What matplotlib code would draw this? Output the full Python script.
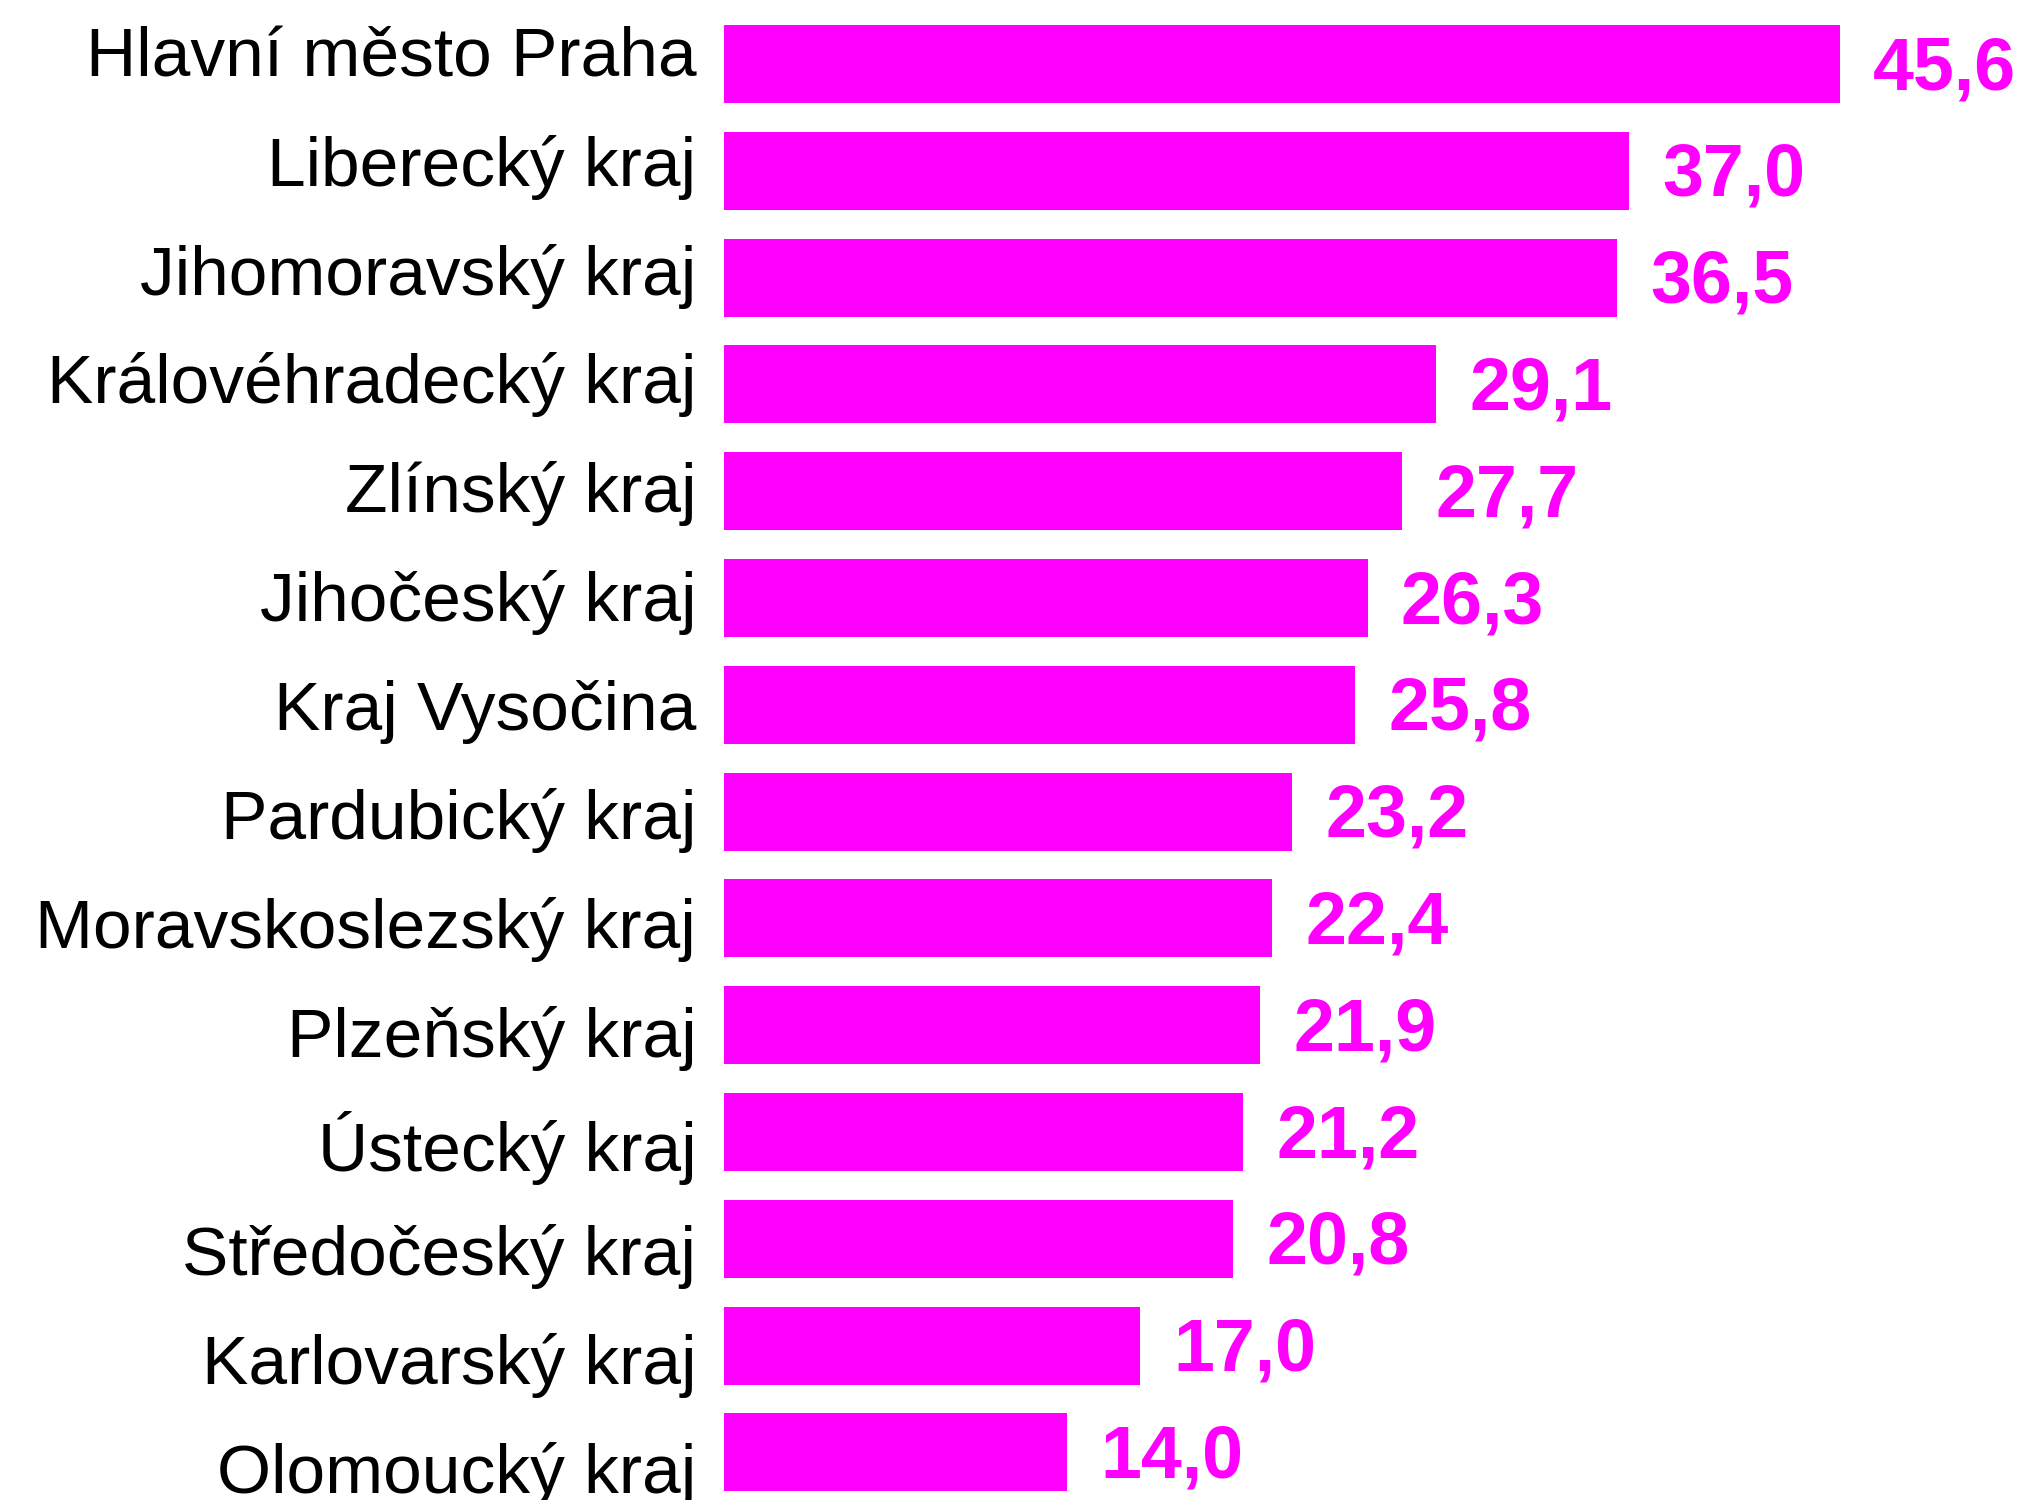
import matplotlib
matplotlib.use('Agg')
import matplotlib.pyplot as plt

regions = [
    'Hlavní město Praha', 'Liberecký kraj', 'Jihomoravský kraj',
    'Královéhradecký kraj', 'Zlínský kraj', 'Jihočeský kraj',
    'Kraj Vysočina', 'Pardubický kraj', 'Moravskoslezský kraj',
    'Plzeňský kraj', 'Ústecký kraj', 'Středočeský kraj',
    'Karlovarský kraj', 'Olomoucký kraj',
]
values = [45.6, 37.0, 36.5, 29.1, 27.7, 26.3, 25.8, 23.2, 22.4,
          21.9, 21.2, 20.8, 17.0, 14.0]

bar_color = '#ff00ff'
plt.rcParams['font.family'] = ['Liberation Sans', 'DejaVu Sans']


def main():
    fig = plt.figure(figsize=(20.28, 15), dpi=100)
    rect = [724 / 2028, 0, 1 - 724 / 2028, 1]
    ax = fig.add_axes(rect)
    pos = list(range(len(values)))
    ax.barh(pos, values, height=0.73, color=bar_color)
    ax.set_ylim(13.446, -0.599)
    ax.set_xlim(0, 53.29)
    for y, v in zip(pos, values):
        ax.annotate(('%.1f' % v).replace('.', ','), (v, y),
                    xytext=(24, -4), textcoords='offset points',
                    va='center', ha='left', color=bar_color,
                    fontsize=53, fontweight='bold', annotation_clip=False)
    ax.axis('off')

    # labels sit on a slightly looser pitch than the bars
    lab = fig.add_axes(rect, frameon=False)
    lab.set_ylim(13.294, -0.468)
    lab.set_yticks(pos)
    lab.set_yticklabels(regions, fontsize=50)
    lab.tick_params(axis='y', length=0, pad=20)
    lab.set_xticks([])
    lab.patch.set_alpha(0)

    fig.savefig('out.png', dpi=100)
    plt.close(fig)


if __name__ == '__main__':
    main()
